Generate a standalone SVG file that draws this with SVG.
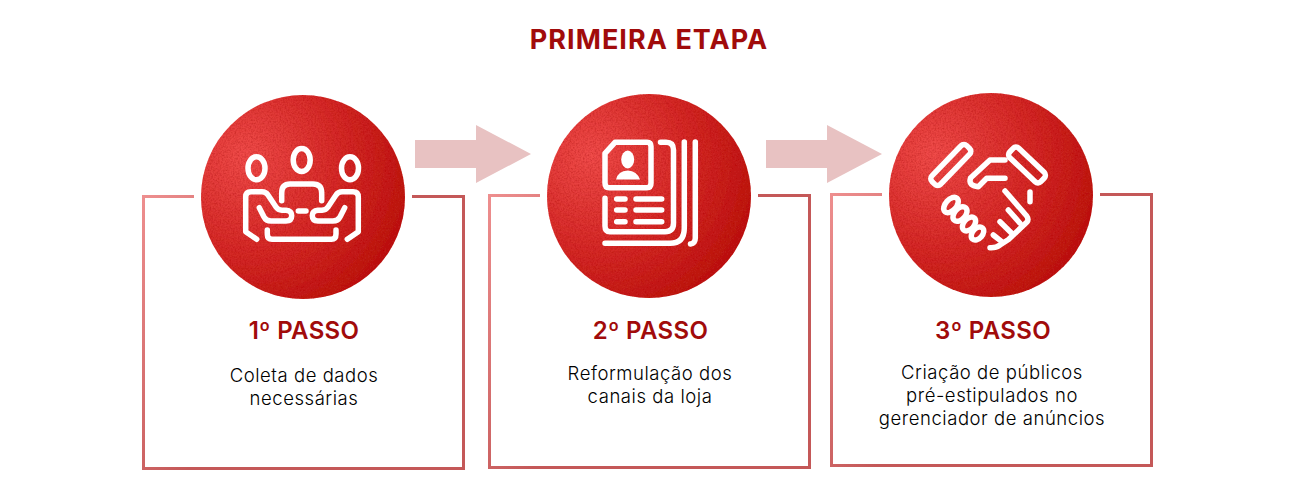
<svg xmlns="http://www.w3.org/2000/svg" width="1300" height="500" viewBox="0 0 1300 500">
<style>
text{font-family:"Inter","Liberation Sans",sans-serif;text-anchor:middle}
.title{font-size:27px;font-weight:700;fill:#a10b0b;letter-spacing:1.05px}
.step{font-size:24px;font-weight:600;fill:#a10b0b;letter-spacing:.35px}
.body{font-size:18.5px;font-weight:300;fill:#000;letter-spacing:.55px}
.box{fill:none;stroke-width:3}
.ico{fill:none;stroke:#fff;stroke-width:5.500;stroke-linecap:round;stroke-linejoin:round}
.arrow{fill:#e8c2c2}
</style>
<defs>
<radialGradient id="disc" gradientUnits="objectBoundingBox" cx=".22" cy=".3" r=".95">
<stop offset="0" stop-color="#f04c4a"/><stop offset=".5" stop-color="#d42a28"/><stop offset="1" stop-color="#b4120e"/>
</radialGradient>
<linearGradient id="b1" gradientUnits="userSpaceOnUse" x1="142" y1="195" x2="300" y2="300"><stop offset="0" stop-color="#ee8f8f"/><stop offset="1" stop-color="#c45858"/></linearGradient>
<linearGradient id="b2" gradientUnits="userSpaceOnUse" x1="488" y1="194" x2="646" y2="300"><stop offset="0" stop-color="#ee8f8f"/><stop offset="1" stop-color="#c45858"/></linearGradient>
<linearGradient id="b3" gradientUnits="userSpaceOnUse" x1="830" y1="193" x2="988" y2="300"><stop offset="0" stop-color="#ee8f8f"/><stop offset="1" stop-color="#c45858"/></linearGradient>
<filter id="grain" x="0" y="0" width="1" height="1"><feTurbulence type="fractalNoise" baseFrequency=".6" numOctaves="2" seed="4" result="n"/><feColorMatrix in="n" type="matrix" values="0 0 0 0 .45  0 0 0 0 0  0 0 0 0 0  1.1 0 0 0 -.42"/><feComposite in2="SourceAlpha" operator="in" result="d"/><feMerge><feMergeNode in="SourceGraphic"/><feMergeNode in="d"/></feMerge></filter>
</defs>
<rect width="1300" height="500" fill="#fff"/>
<text class="title" x="649" y="48.500">PRIMEIRA ETAPA</text>
<g id="connectors">
<polygon class="arrow" points="415,140 476,140 476,125 531,154 476,183 476,168 415,168"/>
<polygon class="arrow" points="766,140 827,140 827,125 882,154 827,183 827,168 766,168"/>
</g>
<g id="step1">
<path class="box" stroke="url(#b1)" d="M194 196.500H143.500V468.500H463.500V196.500H412"/>
<circle cx="303" cy="197" r="102" fill="url(#disc)" filter="url(#grain)"/>
<g class="ico">
<ellipse cx="301.700" cy="160" rx="8.500" ry="11.500"/>
<ellipse cx="256.500" cy="168.300" rx="8.500" ry="11.500"/>
<ellipse cx="350" cy="168.300" rx="8.500" ry="11.500"/>
<path d="M281.700 200.700V193Q281.700 184 290 184H313Q321.700 184 321.700 193V200.700"/>
<path d="M256.700 239.300L245.700 231.700V197Q245.700 191.700 251 191.700H262Q266 191.700 268 195L276 207Q278 210 282 210.300H286Q291.700 211 291.700 215.500Q291.700 221 286 221H271Q266 221 264 217L259.300 207.700"/>
<path d="M347.300 239.300L358.300 231.700V197Q358.300 191.700 353 191.700H342Q338 191.700 336 195L328 207Q326 210 322 210.300H318Q312.300 211 312.300 215.500Q312.300 221 318 221H333Q338 221 340 217L344.700 207.700"/>
<path d="M267.300 230V234Q267.300 239.300 272 239.300H331.500Q336 239.300 336 234V230"/>
<path d="M298.300 211H306"/>
</g>
</g>
<g id="step2">
<path class="box" stroke="url(#b2)" d="M540 195.500H489.500V467.500H809.500V195.500H758"/>
<circle cx="649" cy="196" r="102" fill="url(#disc)" filter="url(#grain)"/>
<g class="ico">
<path d="M605 153.300L615 142.300H647Q651 142.300 651 146.500V183Q651 187.700 647 187.700H609Q605 187.700 605 183Z"/>
<path d="M605 198.300V226Q605 231.700 610 231.700H665Q673.500 231.700 673.500 223V150Q673.500 142.300 666 142.300H660.500"/>
<path d="M605 243.300H670Q684.300 243.300 684.300 228V142"/>
<path d="M695.300 142V238Q695.300 243.300 690.500 244"/>
<path d="M616.700 199H625M636 199H661.700M616.700 210H625M636 210H661.700M616.700 221.700H625M636 221.700H661.700"/>
</g>
<ellipse cx="627.700" cy="159.500" rx="6.500" ry="9" fill="#fff"/>
<path d="M616 179.500Q618 171 627.700 170.500Q637 171 640 179.500Z" fill="#fff"/>
</g>
<g id="step3">
<path class="box" stroke="url(#b3)" d="M882 194.500H831.500V465.500H1151.500V194.500H1100"/>
<circle cx="991" cy="195" r="102" fill="url(#disc)" filter="url(#grain)"/>
<g class="ico">
<rect x="925.800" y="159" width="50" height="12" rx="4" transform="rotate(-46 950.800 165)"/>
<rect x="1005.500" y="158.500" width="43" height="13" rx="4" transform="rotate(43.600 1027 165)"/>
<path d="M1005 160H990L970.500 178Q968 186 978.300 186.700L986.700 178.300H1005"/>
<path d="M1030 192V201.700"/>
<path d="M1005 191L1026.700 216Q1029 219.500 1027 222L1008.500 239.500L1000 245Q996 248 990 247.700"/>
<path d="M1008.300 210L1020 223.300M1000 221.700L1011.700 233.300M993.300 235L1001.700 241.700"/>
<ellipse cx="951" cy="205" rx="9" ry="5.500" transform="rotate(-48 951 205)"/>
<ellipse cx="960" cy="214" rx="8.500" ry="5.500" transform="rotate(-48 960 214)"/>
<ellipse cx="969" cy="224" rx="8" ry="5.200" transform="rotate(-48 969 224)"/>
<ellipse cx="977.500" cy="233.500" rx="7.500" ry="5" transform="rotate(-48 977.500 233.500)"/>
</g>
</g>
<text class="step" x="304" y="339">1º PASSO</text>
<text class="body" x="304" y="382">Coleta de dados</text>
<text class="body" x="304" y="405">necessárias</text>
<text class="step" x="650.500" y="339">2º PASSO</text>
<text class="body" x="650" y="380">Reformulação dos</text>
<text class="body" x="650" y="403">canais da loja</text>
<text class="step" x="993" y="339">3º PASSO</text>
<text class="body" x="992" y="379">Criação de públicos</text>
<text class="body" x="992" y="402">pré-estipulados no</text>
<text class="body" x="992" y="425">gerenciador de anúncios</text>
</svg>
